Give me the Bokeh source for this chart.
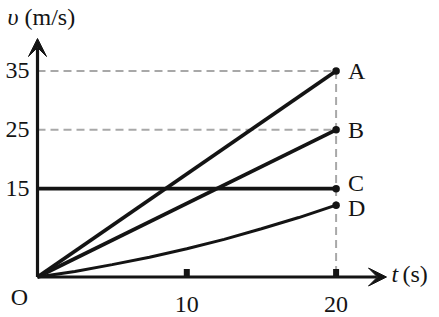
from bokeh.plotting import figure
from bokeh.models import Range1d, Arrow, VeeHead, ColumnDataSource
from bokeh.core.properties import value
from bokeh.embed import file_html
from bokeh.resources import INLINE

# ---- data ----
t_end = 20
labels = ["A", "B", "C", "D"]
v_end = [35, 25, 15, 12.2]
# line A, B: uniform acceleration from 0; C: constant; D: curved
A_t = [0, 20]; A_v = [0, 35]
B_t = [0, 20]; B_v = [0, 25]
C_t = [0, 20]; C_v = [15, 15]
D_t = [0, 2.5, 5, 7.5, 10, 12.5, 15, 17.5, 20]
D_v = [0, 0.95, 2.1, 3.35, 4.8, 6.4, 8.2, 10.1, 12.2]
x_ticks = [10, 20]
x_tick_labels = ["10", "20"]
y_ticks = [35, 25, 15]
y_tick_labels = ["35", "25", "15"]

W, H = 439, 317
ox, oy = 37, 276.5      # origin pixel
sx, sy = 14.93, 5.886   # pixels per unit

p = figure(width=W, height=H, output_backend="svg", toolbar_location=None,
           x_range=Range1d(-ox / sx, (W - ox) / sx),
           y_range=Range1d(-(H - oy) / sy, oy / sy),
           min_border=0, min_border_left=0, min_border_right=0,
           min_border_top=0, min_border_bottom=0)
p.axis.visible = False
p.grid.visible = False
p.outline_line_color = None
p.background_fill_color = "white"
p.border_fill_color = "white"

font = value("Liberation Serif")
ink = "#141414"
fs = "24px"
dash_col = "#a8a8a8"

# dashed guide lines
for yv in [35, 25]:
    p.line([0, t_end], [yv, yv], line_color=dash_col, line_width=2, line_dash="8 5")
p.line([t_end, t_end], [35, 0], line_color=dash_col, line_width=2, line_dash="8 5")

# axes with arrows
p.add_layout(Arrow(end=VeeHead(size=18, fill_color=ink, line_color=ink),
                   x_start=0, y_start=0, x_end=0, y_end=(oy - 38) / sy,
                   line_width=3.2, line_color=ink))
p.add_layout(Arrow(end=VeeHead(size=18, fill_color=ink, line_color=ink),
                   x_start=0, y_start=0, x_end=(386 - ox) / sx, y_end=0,
                   line_width=3.2, line_color=ink))

# x tick marks (small squares above axis)
th = 7 / sy
p.rect(x=x_ticks, y=[th / 2 + 1.0 / sy] * 2, width=6, height=th, width_units="screen",
       fill_color=ink, line_color=None)

# series
lw = 3.8
p.line(A_t, A_v, line_color=ink, line_width=lw)
p.line(B_t, B_v, line_color=ink, line_width=lw)
p.line(C_t, C_v, line_color=ink, line_width=lw)
p.line(D_t, D_v, line_color=ink, line_width=3.0)
p.scatter([t_end] * 4, v_end, size=7.5, fill_color=ink, line_color=None)

# series labels
lab_src = ColumnDataSource(dict(x=[t_end] * 4, y=v_end, text=labels,
                                dy=[0, 0, -6, 3]))
p.text(x="x", y="y", text="text", source=lab_src, x_offset=12, y_offset="dy",
       text_font=font, text_font_size=fs, text_baseline="middle", text_color=ink)

# tick labels
p.text(x=[0] * 3, y=y_ticks, text=y_tick_labels, x_offset=-8, text_align="right",
       text_baseline="middle", text_font=font, text_font_size=fs, text_color=ink)
p.text(x=x_ticks, y=[0, 0], text=x_tick_labels, y_offset=27, text_align="center",
       text_baseline="middle", text_font=font, text_font_size=fs, text_color=ink)
p.text(x=[0], y=[0], text=["O"], x_offset=-18, y_offset=20, text_align="center",
       text_baseline="middle", text_font=font, text_font_size=fs, text_color=ink)

# axis titles
p.text(x=[0], y=[(oy - 38) / sy], text=["υ"], x_offset=-30, y_offset=-22,
       text_align="left", text_baseline="middle", text_font=font,
       text_font_style="italic", text_font_size=fs, text_color=ink)
p.text(x=[0], y=[(oy - 38) / sy], text=["(m/s)"], x_offset=-13, y_offset=-22,
       text_align="left", text_baseline="middle", text_font=font,
       text_font_size=fs, text_color=ink)
p.text(x=[(386 - ox) / sx], y=[0], text=["t"], x_offset=5, y_offset=-3,
       text_align="left", text_baseline="middle", text_font=font,
       text_font_style="italic", text_font_size=fs, text_color=ink)
p.text(x=[(386 - ox) / sx], y=[0], text=["(s)"], x_offset=16, y_offset=-3,
       text_align="left", text_baseline="middle", text_font=font,
       text_font_size=fs, text_color=ink)

open("out.html", "w").write(file_html(p, INLINE))
